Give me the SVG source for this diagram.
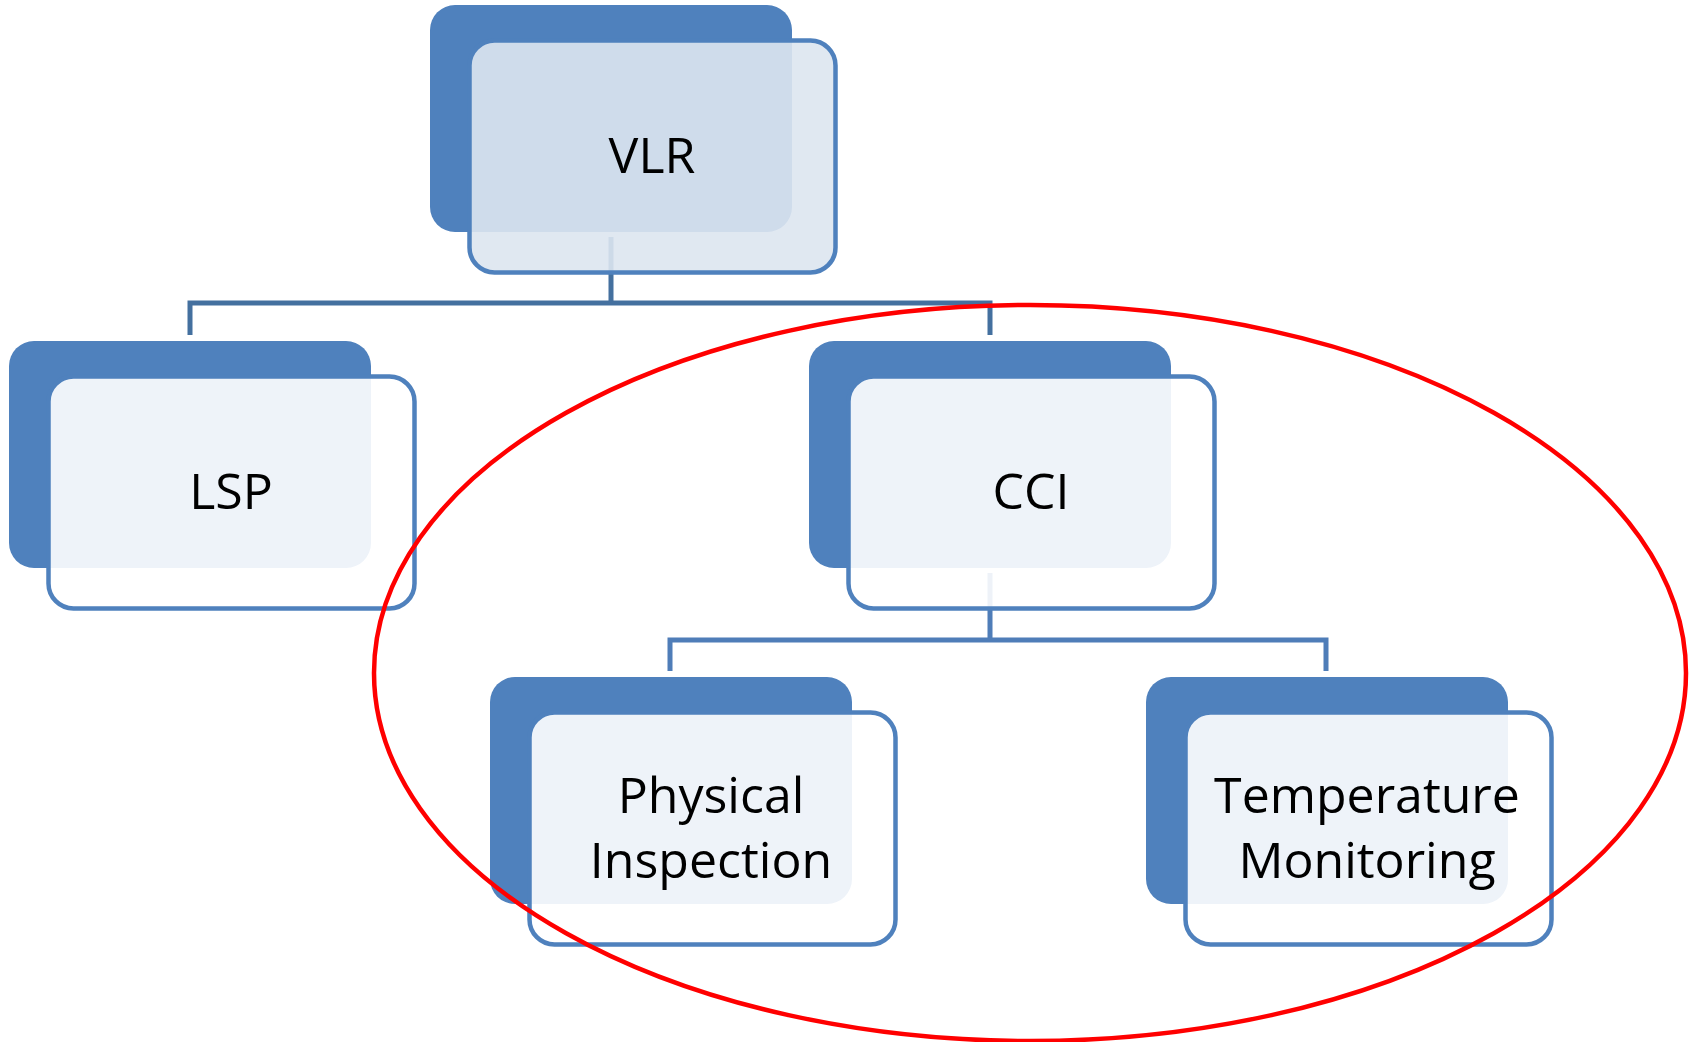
<svg xmlns="http://www.w3.org/2000/svg" width="1693" height="1042" viewBox="0 0 1693 1042">
<style>
.back{fill:#4F81BD}
.front{fill:#FFFFFF;fill-opacity:0.9;stroke:#4F81BD;stroke-width:4.5}
.front.top{fill:#DDE6F0}
.conn{fill:none;stroke-width:5;stroke-linejoin:miter}
.lbl{font-family:"Open Sans","Liberation Sans",sans-serif;font-size:50px;fill:#000;text-anchor:middle}
</style>
<rect width="1693" height="1042" fill="#FFFFFF"/>
<g id="connectors">
<path class="conn" stroke="#44709F" d="M611,237 V303 M190,335 V303 H990 V335"/>
<path class="conn" stroke="#4F7DB8" d="M990,573 V640 M670,671 V640 H1326 V671"/>
</g>
<g id="node-vlr">
<rect class="back" x="430" y="5" width="362" height="227" rx="25"/>
<rect class="front top" x="469.5" y="40.5" width="366" height="232" rx="25"/>
<text class="lbl" x="652" y="173">VLR</text>
</g>
<g id="node-lsp">
<rect class="back" x="9" y="341" width="362" height="227" rx="25"/>
<rect class="front" x="48.5" y="376.5" width="366" height="232" rx="25"/>
<text class="lbl" x="231" y="509">LSP</text>
</g>
<g id="node-cci">
<rect class="back" x="809" y="341" width="362" height="227" rx="25"/>
<rect class="front" x="848.5" y="376.5" width="366" height="232" rx="25"/>
<text class="lbl" x="1031" y="509">CCI</text>
</g>
<g id="node-physical">
<rect class="back" x="490" y="677" width="362" height="227" rx="25"/>
<rect class="front" x="529.5" y="712.5" width="366" height="232" rx="25"/>
<text class="lbl" x="711" y="813">Physical</text>
<text class="lbl" x="711" y="878">Inspection</text>
</g>
<g id="node-temperature">
<rect class="back" x="1146" y="677" width="362" height="227" rx="25"/>
<rect class="front" x="1185.5" y="712.5" width="366" height="232" rx="25"/>
<text class="lbl" x="1367" y="813">Temperature</text>
<text class="lbl" x="1367" y="878">Monitoring</text>
</g>
<ellipse id="highlight" cx="1030" cy="673" rx="656" ry="368" fill="none" stroke="#FF0000" stroke-width="4.5"/>
</svg>
